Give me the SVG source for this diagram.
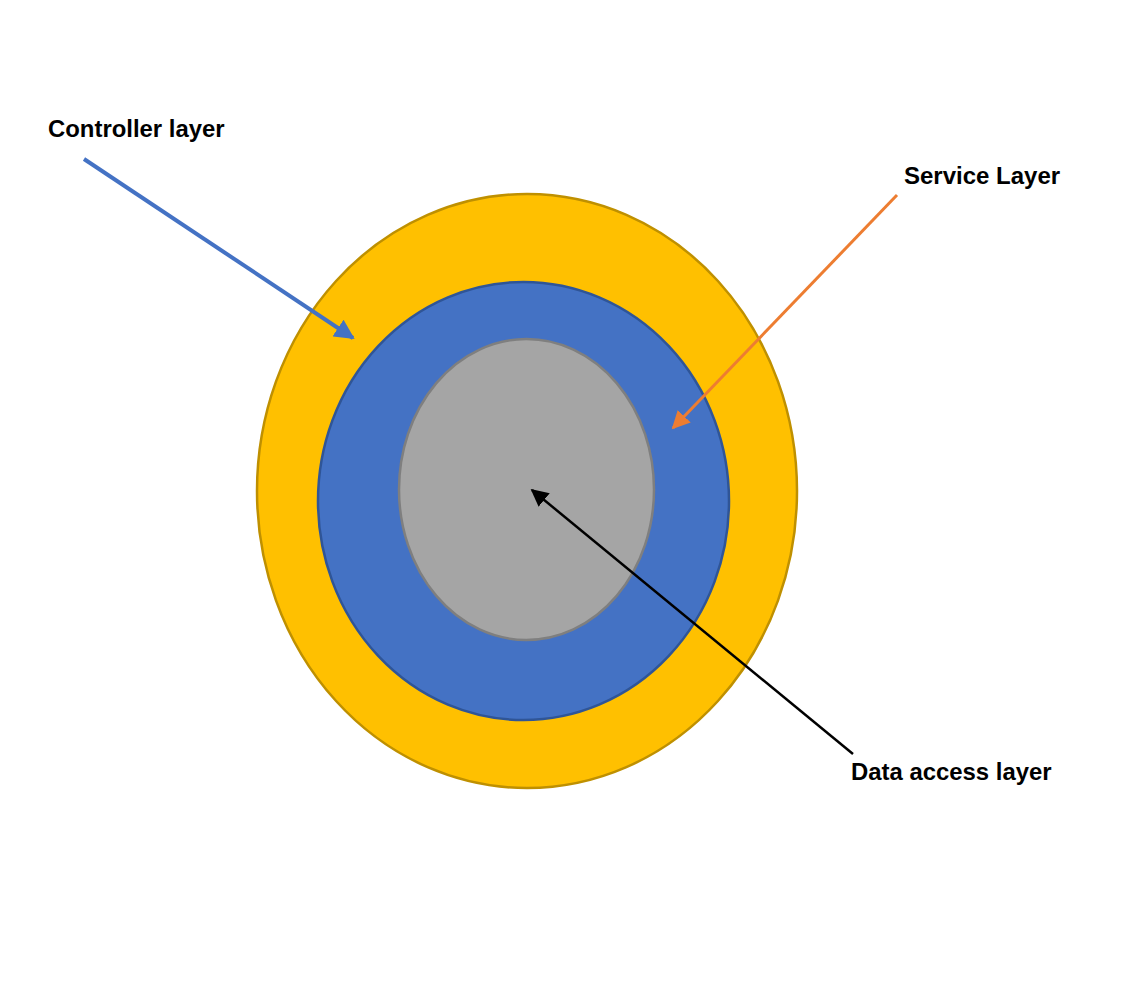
<svg xmlns="http://www.w3.org/2000/svg" width="1136" height="988" viewBox="0 0 1136 988">
<style>
.lbl{font-family:"Liberation Sans",Arial,sans-serif;font-weight:bold;font-size:20px;fill:#000}
</style>
<defs>
<marker id="mb" viewBox="0 0 10 10" refX="9" refY="5" markerWidth="5" markerHeight="5" orient="auto"><path d="M0,0 L10,5 L0,10 z" fill="#4472C4"/></marker>
<marker id="mo" viewBox="0 0 10 10" refX="9" refY="5" markerWidth="6" markerHeight="6" orient="auto"><path d="M0,0 L10,5 L0,10 z" fill="#ED7D31"/></marker>
<marker id="mk" viewBox="0 0 10 10" refX="9" refY="5" markerWidth="7" markerHeight="7" orient="auto"><path d="M0,0 L10,5 L0,10 z" fill="#000"/></marker>
</defs>
<rect width="1136" height="988" fill="#fff"/>
<g id="outer"><ellipse cx="527" cy="491" rx="270" ry="297" fill="#FFC000" stroke="#BF9000" stroke-width="2.5"/></g>
<g id="middle"><ellipse cx="523.5" cy="501" rx="205.5" ry="219" fill="#4472C4" stroke="#2F5597" stroke-width="2.5"/></g>
<g id="inner"><ellipse cx="526.5" cy="489.5" rx="127.5" ry="150.5" fill="#A5A5A5" stroke="#7F7F7F" stroke-width="2.5"/></g>
<g id="connectors">
<line x1="84" y1="159" x2="353" y2="338" stroke="#4472C4" stroke-width="4" marker-end="url(#mb)"/>
<line x1="897" y1="195" x2="673" y2="428" stroke="#ED7D31" stroke-width="3" marker-end="url(#mo)"/>
<line x1="853" y1="754" x2="532" y2="490" stroke="#000" stroke-width="2.5" marker-end="url(#mk)"/>
</g>
<g id="label-controller"><text class="lbl" x="48" y="137" style="font-size:23.9px">Controller layer</text></g>
<g id="label-service"><text class="lbl" x="904" y="184" style="font-size:24px">Service Layer</text></g>
<g id="label-data"><text class="lbl" x="851" y="780" style="font-size:23.9px">Data access layer</text></g>
</svg>
